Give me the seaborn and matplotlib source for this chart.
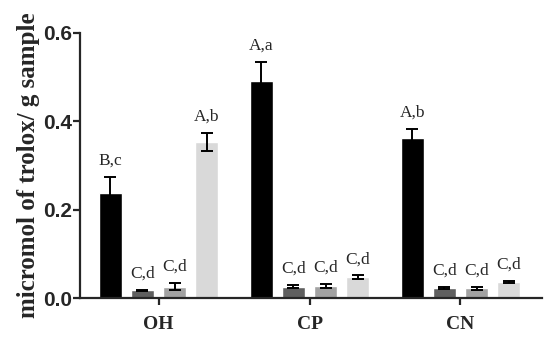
import numpy as np
import pandas as pd
import matplotlib
matplotlib.use("Agg")
import matplotlib.pyplot as plt
import seaborn as sns

# data
groups = ["OH", "CP", "CN"]
series = ["s1", "s2", "s3", "s4"]
vals_s1 = [0.237, 0.492, 0.362]
vals_s2 = [0.018, 0.026, 0.022]
vals_s3 = [0.026, 0.027, 0.022]
vals_s4 = [0.353, 0.047, 0.036]
err_s1 = [0.036, 0.042, 0.020]
err_s2 = [0.001, 0.003, 0.002]
err_s3 = [0.008, 0.004, 0.003]
err_s4 = [0.021, 0.004, 0.002]
lab_s1 = ["B,c", "A,a", "A,b"]
lab_s2 = ["C,d", "C,d", "C,d"]
lab_s3 = ["C,d", "C,d", "C,d"]
lab_s4 = ["A,b", "C,d", "C,d"]

colors = ["#000000", "#5f5f5f", "#a2a2a2", "#d9d9d9"]

vals = [vals_s1, vals_s2, vals_s3, vals_s4]
errs = [err_s1, err_s2, err_s3, err_s4]
labs = [lab_s1, lab_s2, lab_s3, lab_s4]

rows = []
for s, v in zip(series, vals):
    for g, y in zip(groups, v):
        rows.append({"group": g, "series": s, "value": y})
df = pd.DataFrame(rows)

sns.set_style("ticks")
fig = plt.figure(figsize=(5.5, 3.4), dpi=100)
ax = fig.add_axes([0.1455, 0.1235, 0.84, 0.7795])

sns.barplot(data=df, x="group", y="value", hue="series", order=groups,
            hue_order=series, palette=colors, errorbar=None, width=0.85,
            gap=0.3, saturation=1, legend=False, ax=ax)

# error bars and letters, taken from bar positions
for i, s in enumerate(series):
    cont = ax.containers[i]
    for j, bar in enumerate(cont):
        xc = bar.get_x() + bar.get_width() / 2
        y = vals[i][j]
        e = errs[i][j]
        ax.errorbar(xc, y, yerr=e, color="black", capsize=4.5,
                    elinewidth=1.4, capthick=1.4, zorder=5)
        ax.annotate(labs[i][j], (xc, y + e), xytext=(0, 6),
                    textcoords="offset points", ha="center", va="bottom",
                    fontsize=12.5, family="Liberation Serif")

ax.set_xlim(-0.52, 2.54)
ax.set_ylim(0, 0.6)
ax.set_yticks([0.0, 0.2, 0.4, 0.6])
ax.set_yticklabels(["0.0", "0.2", "0.4", "0.6"], fontsize=15,
                   fontweight="bold", family="Liberation Sans")
ax.set_xticks(range(len(groups)))
ax.set_xticklabels(groups, fontsize=14, fontweight="bold",
                   family="Liberation Serif")
ax.set_xlabel("")
ax.set_ylabel("micromol of trolox/ g sample", fontsize=18,
              fontweight="bold", family="Liberation Serif", labelpad=2)

sns.despine(ax=ax)
for sp in ["left", "bottom"]:
    ax.spines[sp].set_linewidth(1.6)
ax.tick_params(axis="both", width=1.6, length=5, direction="out")
ax.tick_params(axis="y", pad=1)
ax.tick_params(axis="x", pad=8)

fig.savefig("out.png", dpi=100)
